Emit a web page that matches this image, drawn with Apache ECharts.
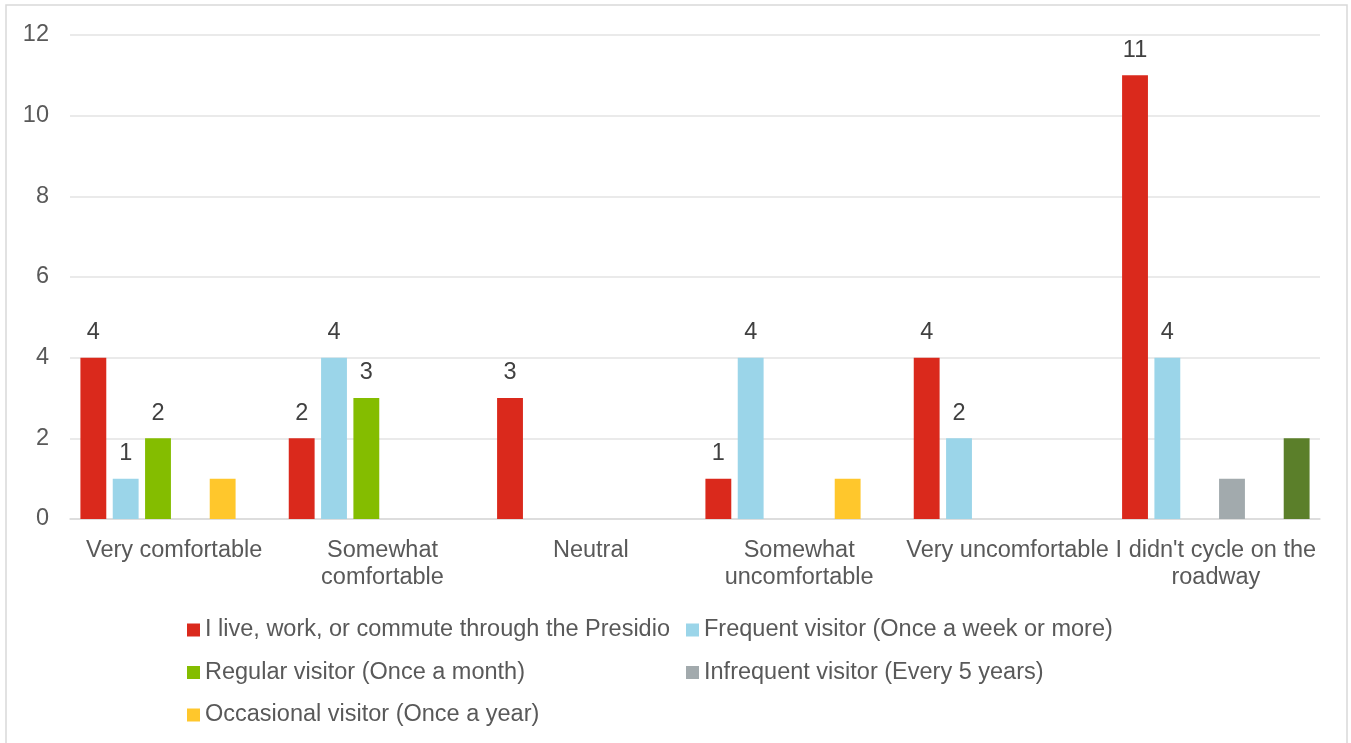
<!DOCTYPE html>
<html>
<head>
<meta charset="utf-8">
<style>
  html, body { margin: 0; padding: 0; background: #fff; }
  #chart { width: 1351px; height: 743px; }
</style>
<script src="https://cdn.jsdelivr.net/npm/echarts@6/dist/echarts.min.js"></script>
</head>
<body>
<div id="chart"></div>
<script>
// Comfort level when cycling on the roadway, by visitor type
const categories = [
  'Very comfortable',
  'Somewhat\ncomfortable',
  'Neutral',
  'Somewhat\nuncomfortable',
  'Very uncomfortable',
  "I didn't cycle on the\nroadway"
];
const yTicks = { min: 0, max: 12, interval: 2 };

const liveWorkCommute = [4, 2, 3, 1, 4, 11];
const frequentVisitor = [1, 4, null, 4, 2, 4];
const regularVisitor  = [2, 3, null, null, null, null];
const infrequentVisitor = [null, null, null, null, null, 1];
const occasionalVisitor = [1, null, null, 1, null, null];
const otherVisitor = [null, null, null, null, null, 2];

const names = [
  'I live, work, or commute through the Presidio',
  'Frequent visitor (Once a week or more)',
  'Regular visitor (Once a month)',
  'Infrequent visitor (Every 5 years)',
  'Occasional visitor (Once a year)',
  'Other'
];
const colors = ['#DA291C', '#9BD5E9', '#84BD00', '#A2AAAD', '#FFC72C', '#5B7F2A'];

const FONT = '"Liberation Sans", Arial, Helvetica, sans-serif';
const FS = 23.5;

function barSeries(name, data, color, showLabel) {
  return {
    name: name,
    type: 'bar',
    data: data,
    itemStyle: { color: color },
    barGap: '25%',
    barCategoryGap: '10%',
    label: {
      show: showLabel,
      position: 'top',
      distance: 13,
      color: '#404040',
      fontSize: FS,
      fontFamily: FONT
    },
    emphasis: { disabled: true }
  };
}

const chart = echarts.init(document.getElementById('chart'), null, { renderer: 'canvas' });

const legendText = { color: '#595959', fontSize: FS, fontFamily: FONT };

chart.setOption({
  animation: false,
  backgroundColor: '#ffffff',
  textStyle: { fontFamily: FONT },
  graphic: [{
    type: 'rect',
    shape: { x: 6, y: 5, width: 1341, height: 760 },
    style: { fill: 'none', stroke: '#d9d9d9', lineWidth: 1.5 },
    silent: true
  }],
  grid: { left: 70, right: 31, top: 35, bottom: 224, containLabel: false },
  legend: [
    {
      orient: 'vertical',
      left: 187,
      top: 618,
      padding: 0,
      itemWidth: 13,
      itemHeight: 13,
      itemGap: 18.5,
      icon: 'rect',
      textStyle: legendText,
      data: [names[0], names[2], names[4]],
      selectedMode: false
    },
    {
      orient: 'vertical',
      left: 686,
      top: 618,
      padding: 0,
      itemWidth: 13,
      itemHeight: 13,
      itemGap: 18.5,
      icon: 'rect',
      textStyle: legendText,
      data: [names[1], names[3]],
      selectedMode: false
    }
  ],
  xAxis: {
    type: 'category',
    data: categories,
    axisLine: { show: true, lineStyle: { color: '#d9d9d9', width: 1.5 } },
    axisTick: { show: false },
    axisLabel: {
      interval: 0,
      color: '#595959',
      fontSize: FS,
      fontFamily: FONT,
      lineHeight: 27,
      margin: 18
    }
  },
  yAxis: {
    type: 'value',
    min: yTicks.min,
    max: yTicks.max,
    interval: yTicks.interval,
    axisLine: { show: false },
    axisTick: { show: false },
    splitLine: { lineStyle: { color: '#e3e3e3', width: 1.5 } },
    axisLabel: {
      color: '#595959',
      fontSize: FS,
      fontFamily: FONT,
      margin: 21
    }
  },
  series: [
    barSeries(names[0], liveWorkCommute, colors[0], true),
    barSeries(names[1], frequentVisitor, colors[1], true),
    barSeries(names[2], regularVisitor, colors[2], true),
    barSeries(names[3], infrequentVisitor, colors[3], false),
    barSeries(names[4], occasionalVisitor, colors[4], false),
    barSeries(names[5], otherVisitor, colors[5], false)
  ]
});
</script>
</body>
</html>
